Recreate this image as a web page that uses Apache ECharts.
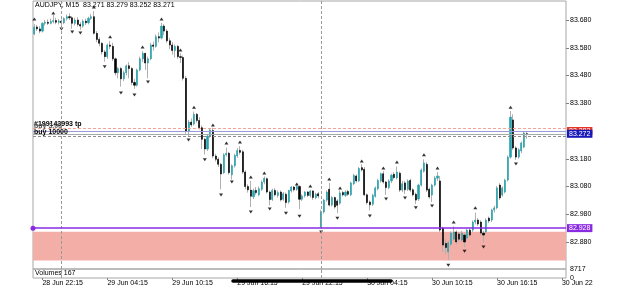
<!DOCTYPE html>
<html>
<head>
<meta charset="utf-8">
<script src="https://cdn.jsdelivr.net/npm/echarts@6/dist/echarts.min.js"></script>
<style>
  html, body { margin: 0; padding: 0; background: #fff; }
  #chart { width: 625px; height: 289px; }
</style>
</head>
<body>
<div id="chart"></div>
<script>
// AUDJPY M15 bars, 28 Jun 21:30 .. 30 Jun 19:00, one row per bar: [open, close, low, high]
const ohlc = [
  [83.630, 83.655, 83.625, 83.665], [83.655, 83.648, 83.640, 83.662], [83.648, 83.640, 83.632, 83.658],
  [83.640, 83.668, 83.635, 83.672], [83.668, 83.672, 83.660, 83.680], [83.672, 83.668, 83.662, 83.682],
  [83.668, 83.675, 83.664, 83.685], [83.675, 83.678, 83.668, 83.698], [83.678, 83.672, 83.665, 83.688],
  [83.672, 83.676, 83.664, 83.684], [83.676, 83.670, 83.655, 83.682], [83.670, 83.685, 83.665, 83.690],
  [83.685, 83.692, 83.678, 83.700], [83.692, 83.688, 83.680, 83.704], [83.688, 83.668, 83.648, 83.694],
  [83.668, 83.680, 83.660, 83.688], [83.680, 83.664, 83.656, 83.690], [83.664, 83.658, 83.645, 83.672],
  [83.658, 83.676, 83.652, 83.682], [83.676, 83.670, 83.662, 83.685], [83.670, 83.686, 83.664, 83.692],
  [83.686, 83.692, 83.680, 83.702], [83.692, 83.632, 83.628, 83.712], [83.632, 83.610, 83.600, 83.640],
  [83.610, 83.596, 83.585, 83.618], [83.596, 83.565, 83.555, 83.600], [83.565, 83.548, 83.530, 83.572],
  [83.548, 83.590, 83.540, 83.595], [83.590, 83.585, 83.575, 83.605], [83.585, 83.540, 83.532, 83.598],
  [83.540, 83.490, 83.480, 83.545], [83.490, 83.505, 83.470, 83.510], [83.505, 83.468, 83.440, 83.510],
  [83.468, 83.490, 83.460, 83.498], [83.490, 83.515, 83.480, 83.520], [83.515, 83.505, 83.470, 83.528],
  [83.505, 83.455, 83.445, 83.510], [83.455, 83.445, 83.432, 83.468], [83.445, 83.500, 83.440, 83.505],
  [83.500, 83.540, 83.495, 83.548], [83.540, 83.560, 83.528, 83.568], [83.560, 83.525, 83.500, 83.562],
  [83.525, 83.540, 83.470, 83.548], [83.540, 83.590, 83.535, 83.598], [83.590, 83.585, 83.570, 83.602],
  [83.585, 83.620, 83.580, 83.628], [83.620, 83.615, 83.600, 83.635], [83.615, 83.658, 83.610, 83.670],
  [83.658, 83.640, 83.625, 83.665], [83.640, 83.605, 83.598, 83.648], [83.605, 83.590, 83.575, 83.615],
  [83.590, 83.570, 83.555, 83.600], [83.570, 83.585, 83.545, 83.592], [83.585, 83.548, 83.540, 83.590],
  [83.548, 83.545, 83.525, 83.560], [83.545, 83.470, 83.462, 83.552], [83.470, 83.280, 83.270, 83.478],
  [83.278, 83.312, 83.262, 83.320], [83.312, 83.302, 83.295, 83.325], [83.305, 83.340, 83.300, 83.350],
  [83.340, 83.318, 83.310, 83.345], [83.318, 83.292, 83.285, 83.330], [83.292, 83.250, 83.215, 83.300],
  [83.250, 83.215, 83.195, 83.255], [83.215, 83.262, 83.208, 83.268], [83.262, 83.284, 83.255, 83.288],
  [83.282, 83.190, 83.182, 83.292], [83.190, 83.178, 83.170, 83.198], [83.178, 83.160, 83.150, 83.185],
  [83.160, 83.125, 83.070, 83.165], [83.130, 83.194, 83.125, 83.200], [83.194, 83.200, 83.188, 83.220],
  [83.200, 83.130, 83.122, 83.205], [83.122, 83.155, 83.105, 83.160], [83.155, 83.192, 83.148, 83.198],
  [83.190, 83.210, 83.183, 83.218], [83.210, 83.203, 83.195, 83.225], [83.205, 83.132, 83.125, 83.212],
  [83.132, 83.080, 83.070, 83.138], [83.080, 83.068, 83.058, 83.088], [83.067, 83.045, 83.006, 83.100],
  [83.043, 83.065, 83.035, 83.072], [83.066, 83.058, 83.050, 83.078], [83.050, 83.072, 83.045, 83.080],
  [83.070, 83.096, 83.064, 83.102], [83.096, 83.110, 83.088, 83.116], [83.108, 83.060, 83.055, 83.112],
  [83.060, 83.033, 83.012, 83.065], [83.033, 83.066, 83.028, 83.072], [83.066, 83.050, 83.044, 83.074],
  [83.048, 83.058, 83.040, 83.066], [83.060, 83.032, 83.026, 83.066], [83.034, 83.054, 83.028, 83.060],
  [83.052, 83.022, 83.003, 83.058], [83.024, 83.066, 83.018, 83.068], [83.064, 83.078, 83.058, 83.082],
  [83.078, 83.068, 83.062, 83.082], [83.070, 83.080, 83.064, 83.086], [83.080, 83.034, 82.998, 83.084],
  [83.034, 83.046, 83.028, 83.052], [83.046, 83.060, 83.040, 83.064], [83.060, 83.048, 83.042, 83.064],
  [83.048, 83.064, 83.040, 83.068], [83.064, 83.040, 83.032, 83.066], [83.040, 83.052, 83.034, 83.058],
  [83.054, 83.046, 83.038, 83.060], [82.935, 82.988, 82.930, 82.996], [82.988, 83.031, 82.982, 83.036],
  [83.031, 83.060, 83.025, 83.066], [83.070, 83.013, 83.008, 83.093], [83.013, 83.040, 83.008, 83.046],
  [83.040, 83.006, 83.000, 83.044], [83.028, 83.012, 82.984, 83.034], [83.020, 83.057, 83.014, 83.066],
  [83.058, 83.050, 83.044, 83.064], [83.048, 83.060, 83.042, 83.066], [83.062, 83.052, 83.046, 83.068],
  [83.050, 83.093, 83.045, 83.098], [83.090, 83.120, 83.085, 83.126], [83.118, 83.100, 83.094, 83.124],
  [83.100, 83.145, 83.096, 83.150], [83.148, 83.140, 83.134, 83.160], [83.142, 83.050, 83.045, 83.150],
  [83.050, 83.022, 83.015, 83.055], [83.024, 83.014, 82.994, 83.030], [83.016, 83.048, 83.010, 83.054],
  [83.045, 83.075, 83.040, 83.080], [83.072, 83.102, 83.066, 83.108], [83.100, 83.126, 83.094, 83.130],
  [83.126, 83.096, 83.090, 83.136], [83.096, 83.076, 83.050, 83.100], [83.076, 83.100, 83.070, 83.106],
  [83.100, 83.121, 83.092, 83.126], [83.124, 83.112, 83.106, 83.132], [83.111, 83.132, 83.105, 83.152],
  [83.128, 83.067, 83.060, 83.134], [83.067, 83.090, 83.060, 83.100], [83.093, 83.068, 83.053, 83.100],
  [83.070, 83.100, 83.064, 83.106], [83.102, 83.067, 83.060, 83.108], [83.068, 83.050, 83.044, 83.074],
  [83.052, 83.031, 83.017, 83.058], [83.035, 83.085, 83.028, 83.090], [83.085, 83.139, 83.080, 83.145],
  [83.135, 83.165, 83.130, 83.178], [83.160, 83.067, 83.060, 83.168], [83.070, 83.042, 83.036, 83.076],
  [83.049, 83.085, 83.024, 83.090], [83.085, 83.111, 83.080, 83.118], [83.110, 83.118, 83.100, 83.132],
  [83.100, 82.923, 82.915, 83.118], [82.930, 82.869, 82.844, 82.935], [82.875, 82.860, 82.835, 82.890],
  [82.844, 82.877, 82.815, 82.885], [82.872, 82.912, 82.865, 82.918], [82.890, 82.916, 82.884, 82.936],
  [82.916, 82.880, 82.872, 82.922], [82.909, 82.890, 82.880, 82.916], [82.887, 82.912, 82.880, 82.920],
  [82.905, 82.880, 82.862, 82.912], [82.894, 82.923, 82.888, 82.928], [82.923, 82.905, 82.898, 82.930],
  [82.923, 82.952, 82.916, 82.958], [82.952, 82.959, 82.944, 82.986], [82.959, 82.945, 82.938, 82.966],
  [82.952, 82.912, 82.905, 82.958], [82.912, 82.905, 82.878, 82.920], [82.916, 82.959, 82.909, 82.965],
  [82.966, 82.956, 82.948, 82.972], [82.959, 82.995, 82.952, 83.000], [82.995, 83.003, 82.986, 83.010],
  [83.003, 83.075, 82.998, 83.082], [83.085, 83.039, 83.032, 83.092], [83.049, 83.075, 83.044, 83.080],
  [83.060, 83.103, 83.055, 83.108], [83.103, 83.186, 83.098, 83.192], [83.186, 83.330, 83.180, 83.352],
  [83.320, 83.219, 83.212, 83.340], [83.219, 83.186, 83.176, 83.225], [83.186, 83.212, 83.180, 83.218],
  [83.208, 83.237, 83.200, 83.242], [83.222, 83.273, 83.218, 83.280], [83.271, 83.271, 83.252, 83.279]
]

// fractal arrows: [bar index, price]
const fractalUp = [
  [0, 83.684], [7, 83.705], [22, 83.727], [28, 83.620], [40, 83.583], [47, 83.684], [54, 83.572],
  [59, 83.366], [66, 83.302], [71, 83.237], [76, 83.240], [80, 83.114], [85, 83.129], [97, 83.089],
  [102, 83.082], [109, 83.107], [113, 83.075], [121, 83.172], [129, 83.147], [134, 83.168],
  [144, 83.194], [149, 83.147], [155, 82.952], [163, 83.003], [176, 83.366]
]
const fractalDown = [
  [10, 83.648], [14, 83.637], [17, 83.633], [26, 83.512], [32, 83.417], [37, 83.410], [42, 83.457],
  [57, 83.248], [63, 83.176], [69, 83.049], [73, 83.096], [80, 82.988], [87, 82.999], [93, 82.984],
  [98, 82.973], [106, 82.916], [112, 82.966], [124, 82.974], [130, 83.035], [137, 83.039],
  [141, 83.003], [147, 83.010], [153, 82.796], [159, 82.847], [166, 82.862], [178, 83.161]
]

const priceTicks = [83.68, 83.58, 83.48, 83.38, 83.18, 83.08, 82.98, 82.88]
const xTickIdx = [3, 27, 51, 75, 99, 123, 147, 171, 195]
const xTickText = ['28 Jun 22:15', '29 Jun 04:15', '29 Jun 10:15', '29 Jun 16:15', '29 Jun 22:15',
  '30 Jun 04:15', '30 Jun 10:15', '30 Jun 16:15', '30 Jun 22']
const daySeparators = [10, 106]

const tpLevel = 83.288
const askLevel = 83.283
const buyLevel = 83.277
const bidLevel = 83.272
const orderLevel = 83.2555
const alertLevel = 82.928
const zone = [82.917, 82.8135]
const volumeMax = 8717
const volumeLast = 167
const totalSlots = 197

// bar times, 15 minutes apart, from 28 Jun 21:30
const categories = []
for (let k = 0; k < totalSlots; k++) {
  const t = 21 * 60 + 30 + 15 * k
  const day = 28 + Math.floor(t / 1440)
  const m = t % 1440
  const hh = String(Math.floor(m / 60)).padStart(2, '0')
  const mm = String(m % 60).padStart(2, '0')
  categories.push(day + ' Jun ' + hh + ':' + mm)
}

const font = 'Liberation Sans'
const chart = echarts.init(document.getElementById('chart'))

const priceBox = (level, bg) => ({
  show: true,
  position: 'end',
  distance: 1,
  formatter: level.toFixed(3),
  backgroundColor: bg,
  color: '#fff',
  fontSize: 7,
  fontFamily: font,
  padding: [0, 2],
  lineHeight: 8
})

const leftTag = (text, color) => ({
  show: true,
  position: 'insideStartTop',
  distance: 1,
  formatter: text,
  color: color,
  fontSize: 7,
  fontWeight: 'bold',
  fontFamily: font
})

const emptyLine = () => categories.map(() => null)

chart.setOption({
  animation: false,
  textStyle: { fontFamily: font },
  grid: [
    { left: 33, top: 1, width: 533, height: 268, show: true, borderColor: '#a6a6a6', borderWidth: 1 },
    { left: 33, top: 269, width: 533, height: 9, show: true, borderColor: '#a6a6a6', borderWidth: 1 }
  ],
  xAxis: [
    {
      type: 'category',
      gridIndex: 0,
      data: categories,
      boundaryGap: true,
      axisLine: { show: false },
      axisTick: { show: false },
      axisLabel: { show: false },
      splitLine: { show: false }
    },
    {
      type: 'category',
      gridIndex: 1,
      data: categories,
      boundaryGap: true,
      axisLine: { show: false },
      axisTick: {
        show: true,
        length: 2,
        alignWithLabel: true,
        interval: (index) => xTickIdx.includes(index),
        lineStyle: { color: '#808080' }
      },
      axisLabel: {
        show: true,
        interval: (index) => xTickIdx.includes(index),
        formatter: (value, index) => xTickText[xTickIdx.indexOf(index)] || '',
        align: 'left',
        margin: 2,
        fontSize: 7,
        color: '#000',
        hideOverlap: false
      },
      splitLine: { show: false }
    }
  ],
  yAxis: [
    {
      type: 'value',
      gridIndex: 0,
      position: 'right',
      min: 82.7827,
      max: 83.7485,
      axisLine: { show: false },
      axisTick: { show: true, length: 3, customValues: priceTicks, lineStyle: { color: '#808080' } },
      axisLabel: {
        customValues: priceTicks,
        formatter: (v) => v.toFixed(3),
        fontSize: 7,
        color: '#000',
        margin: 4
      },
      splitLine: { show: false }
    },
    {
      type: 'value',
      gridIndex: 1,
      position: 'right',
      min: 0,
      max: volumeMax,
      axisLine: { show: false },
      axisTick: { show: false },
      axisLabel: {
        customValues: [0, volumeMax],
        formatter: (v) => String(v),
        fontSize: 7,
        color: '#000',
        margin: 4
      },
      splitLine: { show: false }
    }
  ],
  graphic: [
    {
      type: 'text',
      left: 35,
      top: 2,
      style: { text: 'AUDJPY, M15  83.271 83.279 83.252 83.271', font: '7px ' + font, fill: '#000' }
    },
    {
      type: 'text',
      left: 35,
      top: 270,
      style: { text: 'Volumes ' + volumeLast, font: '7px ' + font, fill: '#000' }
    },
    {
      type: 'polyline',
      shape: { points: [[233, 281], [391, 281]] },
      style: { stroke: '#000', lineWidth: 3.5, lineCap: 'round' },
      z: 100
    }
  ],
  series: [
    {
      // pink zone and day separators
      type: 'line',
      xAxisIndex: 0,
      yAxisIndex: 0,
      data: emptyLine(),
      z: 1,
      markArea: {
        silent: true,
        itemStyle: { color: '#f3aea7' },
        data: [[{ yAxis: zone[0] }, { yAxis: zone[1] }]]
      },
      markLine: {
        silent: true,
        symbol: 'none',
        lineStyle: { color: '#9a9a9a', type: [3, 2], width: 1 },
        label: { show: false },
        data: daySeparators.map((i) => ({ xAxis: categories[i] }))
      }
    },
    {
      type: 'line',
      xAxisIndex: 1,
      yAxisIndex: 1,
      data: emptyLine(),
      markLine: {
        silent: true,
        symbol: 'none',
        lineStyle: { color: '#9a9a9a', type: [3, 2], width: 1 },
        label: { show: false },
        data: daySeparators.map((i) => ({ xAxis: categories[i] }))
      }
    },
    {
      // wicks
      type: 'candlestick',
      xAxisIndex: 0,
      yAxisIndex: 0,
      data: ohlc,
      barWidth: 1,
      z: 2,
      itemStyle: {
        color: '#b0b0b0',
        color0: '#b0b0b0',
        borderColor: '#b0b0b0',
        borderColor0: '#b0b0b0',
        borderWidth: 1
      }
    },
    {
      // bodies
      type: 'candlestick',
      xAxisIndex: 0,
      yAxisIndex: 0,
      data: ohlc.map(([o, c]) => [o, c, Math.min(o, c), Math.max(o, c)]),
      barWidth: 1.6,
      z: 3,
      itemStyle: {
        color: '#27a3ad',
        color0: '#000',
        borderColor: '#27a3ad',
        borderColor0: '#000',
        borderWidth: 0.6
      }
    },
    {
      type: 'scatter',
      xAxisIndex: 0,
      yAxisIndex: 0,
      data: fractalUp,
      symbol: 'triangle',
      symbolSize: [4, 3],
      z: 4,
      itemStyle: { color: '#000' }
    },
    {
      type: 'scatter',
      xAxisIndex: 0,
      yAxisIndex: 0,
      data: fractalDown,
      symbol: 'triangle',
      symbolRotate: 180,
      symbolSize: [4, 3],
      z: 4,
      itemStyle: { color: '#000' }
    },
    {
      // order and price lines
      type: 'line',
      xAxisIndex: 0,
      yAxisIndex: 0,
      data: emptyLine(),
      z: 5,
      markLine: {
        silent: true,
        symbol: 'none',
        data: [
          { yAxis: tpLevel, lineStyle: { color: '#f3a497', type: [3, 2], width: 1 }, label: leftTag('#199143993 tp', '#000') },
          { yAxis: askLevel, lineStyle: { color: '#f08a80', type: 'solid', width: 1 }, label: priceBox(askLevel, '#e8362a') },
          { yAxis: buyLevel, lineStyle: { color: '#9a9ad6', type: 'solid', width: 1 }, label: leftTag('buy 3.00', '#555') },
          { yAxis: orderLevel, lineStyle: { color: '#8c8c8c', type: [3, 2], width: 1 }, label: leftTag('buy 10000', '#000') },
          { yAxis: bidLevel, lineStyle: { color: '#a8a8a8', type: 'solid', width: 1 }, label: priceBox(bidLevel, '#1818b8') }
        ]
      }
    },
    {
      type: 'line',
      xAxisIndex: 0,
      yAxisIndex: 0,
      data: emptyLine(),
      z: 5,
      markLine: {
        silent: true,
        symbol: ['circle', 'none'],
        symbolSize: 5,
        lineStyle: { color: '#8a2be2', type: 'solid', width: 1.5 },
        label: priceBox(alertLevel, '#8a2be2'),
        data: [{ yAxis: alertLevel }]
      }
    }
  ]
})
</script>
</body>
</html>
